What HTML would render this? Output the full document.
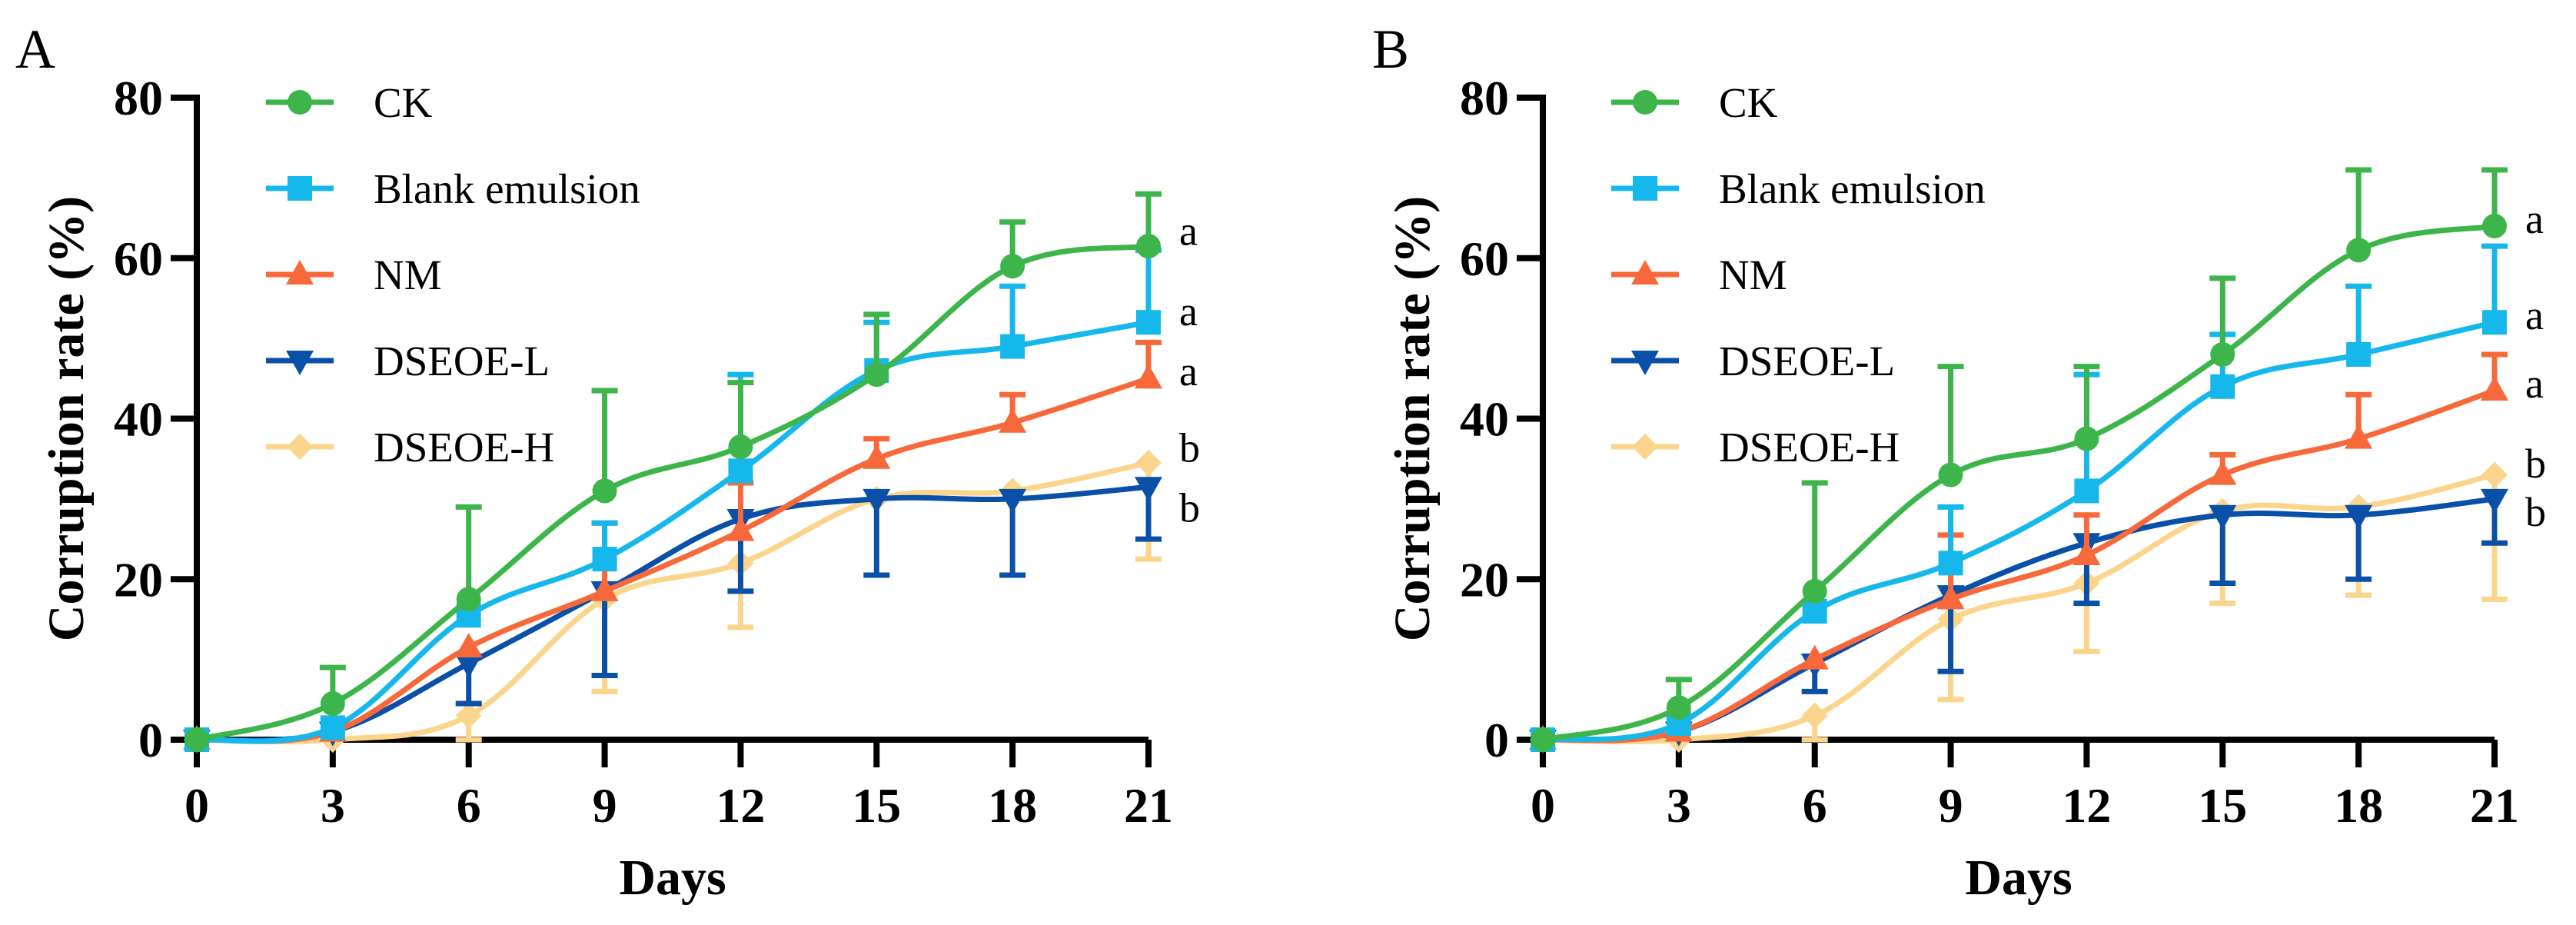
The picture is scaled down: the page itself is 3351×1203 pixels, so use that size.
<!DOCTYPE html>
<html><head><meta charset="utf-8"><style>
html,body{margin:0;padding:0;background:#fff;}
svg{display:block;}
text{font-family:"Liberation Serif",serif;}
</style></head><body>
<svg id="fig" width="3351" height="1203" viewBox="0 0 3351 1203" xmlns="http://www.w3.org/2000/svg"></svg>
<script>
const days = [0,3,6,9,12,15,18,21];
const yTicks = [0,20,40,60,80];
const seriesNames = ["CK","Blank emulsion","NM","DSEOE-L","DSEOE-H"];
const seriesColors = ["#3db54a","#16b7ea","#f7693a","#0a4fa8","#fcd58c"];
const markerTypes = ["circle","square","triangle","triangle-down","diamond"];
const errDir = [1,1,1,-1,-1];
// Panel A
const aCK = [0,4.5,17.5,31,36.5,45.5,59,61.5];
const aBlank = [0,1.5,15.5,22.5,33.5,46,49,52];
const aNM = [0,1,11.5,18.5,26,35,39.5,45];
const aL = [0,1,9.5,18.5,27.5,30,30,31.5];
const aH = [0,0,3,17.5,22,30,31,34.5];
const aCKsd = [0,4.5,11.5,12.5,8,7.5,5.5,6.5];
const aBlanksd = [0,0,0,4.5,12,6,7.5,9];
const aNMsd = [0,0,0,8.5,6,2.5,3.5,4.5];
const aLsd = [0,0,5,10.5,9,9.5,9.5,6.5];
const aHsd = [0,0,3,11.5,8,0,0,12];
const aLetters = ["a","a","a","b","b"];
const aLetterY = [63,53,45.5,36,28.5];
// Panel B
const bCK = [0,4,18.5,33,37.5,48,61,64];
const bBlank = [0,2,16,22,31,44,48,52];
const bNM = [0,1,10,17.5,23,33,37.5,43.5];
const bL = [0,1,9.5,18,24.5,28,28,30];
const bH = [0,0,3,15,19.5,28.5,29,33];
const bCKsd = [0,3.5,13.5,13.5,9,9.5,10,7];
const bBlanksd = [0,0,0,7,14.5,6.5,8.5,9.5];
const bNMsd = [0,0,0,8,5,2.5,5.5,4.5];
const bLsd = [0,0,3.5,9.5,7.5,8.5,8,5.5];
const bHsd = [0,0,3,10,8.5,11.5,11,15.5];
const bLetters = ["a","a","a","b","b"];
const bLetterY = [64.5,52.5,44,34,28];

const NS="http://www.w3.org/2000/svg";
const svg=document.getElementById('fig');
function mk(tag,attrs,parent){const e=document.createElementNS(NS,tag);for(const k in attrs)e.setAttribute(k,attrs[k]);(parent||svg).appendChild(e);return e;}

const Y0=962,Y80=127;
function marker(g,type,x,y,color){
  let m;
  if(type==="circle")m=mk('circle',{cx:x,cy:y,r:16,fill:color},g);
  else if(type==="square")m=mk('rect',{x:x-16,y:y-16,width:32,height:32,fill:color},g);
  else if(type==="triangle")m=mk('polygon',{points:`${x},${y-19} ${x+18},${y+13} ${x-18},${y+13}`,fill:color},g);
  else if(type==="triangle-down")m=mk('polygon',{points:`${x},${y+19} ${x+18},${y-13} ${x-18},${y-13}`,fill:color},g);
  else m=mk('polygon',{points:`${x},${y-17} ${x+17},${y} ${x},${y+17} ${x-17},${y}`,fill:color},g);
  return m;
}
function smoothPath(pts){
  let d=`M${pts[0][0]},${pts[0][1]}`;
  for(let i=0;i<pts.length-1;i++){
    const p0=pts[Math.max(0,i-1)],p1=pts[i],p2=pts[i+1],p3=pts[Math.min(pts.length-1,i+2)];
    const t=0.18;
    const c1=[p1[0]+(p2[0]-p0[0])*t,p1[1]+(p2[1]-p0[1])*t];
    const c2=[p2[0]-(p3[0]-p1[0])*t,p2[1]-(p3[1]-p1[1])*t];
    d+=` C${c1[0]},${c1[1]} ${c2[0]},${c2[1]} ${p2[0]},${p2[1]}`;
  }
  return d;
}
function panel(id,letter,letterX,X0,X21,legendX,vals,sds,letters,letterY){
  const sx=d=>X0+(X21-X0)*d/21;
  const sy=v=>Y0+(Y80-Y0)*v/80;
  const g=mk('g',{});
  
  
  const pl=mk('text',{x:letterX,y:88,'font-size':72},g);
  pl.textContent=letter;
  
  
  const ax=mk('path',{d:`M${X0},${Y80-4} V${Y0} H${X21}`,stroke:'#000','stroke-width':8,fill:'none'},g);
  
  
  yTicks.forEach(v=>{
    mk('line',{x1:X0-34,x2:X0,y1:sy(v),y2:sy(v),stroke:'#000','stroke-width':8},g);
    const t=mk('text',{x:X0-44,y:sy(v)+22,'font-size':64,'font-weight':'bold','text-anchor':'end'},g);
    t.textContent=v;
    
    
  });
  days.forEach(d=>{
    mk('line',{x1:sx(d),x2:sx(d),y1:Y0,y2:Y0+36,stroke:'#000','stroke-width':8},g);
    const t=mk('text',{x:sx(d),y:Y0+107,'font-size':64,'font-weight':'bold','text-anchor':'middle'},g);
    t.textContent=d;
    
    
  });
  const yt=mk('text',{x:0,y:0,'font-size':66,'font-weight':'bold','text-anchor':'middle',transform:`translate(${X0-148},${(Y0+Y80)/2}) rotate(-90)`},g);
  yt.textContent='Corruption rate (%)';
  
  
  const xt=mk('text',{x:(X0+X21)/2,y:1163,'font-size':66,'font-weight':'bold','text-anchor':'middle'},g);
  xt.textContent='Days';
  
  
  for(let s=4;s>=0;s--){
    const sg=mk('g',{},g);
    
    
    const c=seriesColors[s];
    days.forEach((d,i)=>{
      const sd=sds[s][i];
      if(sd>0){
        const y1=sy(vals[s][i]),y2=sy(vals[s][i]+errDir[s]*sd);
        const eb=mk('path',{d:`M${sx(d)},${y1} V${y2} M${sx(d)-17},${y2} H${sx(d)+17}`,stroke:c,'stroke-width':7,fill:'none'},sg);
        
        
      }
    });
    const pts=days.map((d,i)=>[sx(d),sy(vals[s][i])]);
    const ln=mk('path',{d:smoothPath(pts),stroke:c,'stroke-width':7,fill:'none'},sg);
    
    
    pts.forEach(p=>{
      const m=marker(sg,markerTypes[s],p[0],p[1],c);
      
      
    });
  }
  letters.forEach((l,i)=>{
    const t=mk('text',{x:X21+40,y:sy(letterY[i])+14,'font-size':54},g);
    t.textContent=l;
    
    
  });
  const lg=mk('g',{},g);
  
  
  seriesNames.forEach((n,i)=>{
    const y=133+112*i;
    const e=mk('g',{},lg);
    
    
    mk('line',{x1:legendX,x2:legendX+88,y1:y,y2:y,stroke:seriesColors[i],'stroke-width':7},e);
    marker(e,markerTypes[i],legendX+44,y,seriesColors[i]);
    const t=mk('text',{x:legendX+140,y:y+19,'font-size':55},e);
    t.textContent=n;
  });
}
panel('a','A',20,256,1494,346,[aCK,aBlank,aNM,aL,aH],[aCKsd,aBlanksd,aNMsd,aLsd,aHsd],aLetters,aLetterY);
panel('b','B',1785,2007,3245,2096,[bCK,bBlank,bNM,bL,bH],[bCKsd,bBlanksd,bNMsd,bLsd,bHsd],bLetters,bLetterY);
</script>
</body></html>
